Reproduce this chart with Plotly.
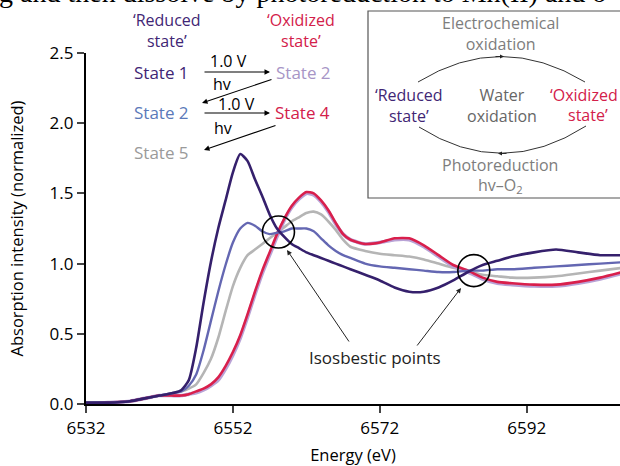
import plotly.graph_objects as go

# ---------------- data ----------------
energy = [6532, 6535, 6538, 6540, 6542, 6544, 6545, 6546, 6547, 6548, 6549, 6550,
          6551, 6552, 6553, 6554, 6555, 6556, 6557, 6558, 6559, 6560, 6561, 6562,
          6563, 6564, 6565, 6566, 6567, 6568, 6570, 6572, 6574, 6576, 6578, 6580,
          6582, 6584, 6586, 6588, 6590, 6593, 6596, 6599, 6602, 6605]

state1 = [0.01, 0.01, 0.02, 0.04, 0.06, 0.08, 0.10, 0.17, 0.40, 0.72, 1.01, 1.25,
          1.45, 1.65, 1.78, 1.73, 1.60, 1.48, 1.35, 1.25, 1.19, 1.14, 1.11, 1.08,
          1.06, 1.04, 1.02, 1.00, 0.98, 0.96, 0.92, 0.88, 0.83, 0.80, 0.80, 0.83,
          0.88, 0.94, 0.99, 1.02, 1.05, 1.08, 1.10, 1.08, 1.06, 1.06]

state2 = [0.01, 0.01, 0.02, 0.04, 0.06, 0.08, 0.09, 0.13, 0.21, 0.38, 0.59, 0.80,
          0.99, 1.15, 1.25, 1.29, 1.27, 1.23, 1.21, 1.22, 1.23, 1.25, 1.25, 1.25,
          1.23, 1.18, 1.13, 1.09, 1.06, 1.04, 1.00, 0.98, 0.97, 0.96, 0.95, 0.94,
          0.94, 0.95, 0.95, 0.96, 0.96, 0.97, 0.98, 0.99, 1.00, 1.01]

state5 = [0.01, 0.01, 0.02, 0.04, 0.06, 0.08, 0.09, 0.11, 0.14, 0.22, 0.32, 0.47,
          0.66, 0.84, 0.97, 1.06, 1.10, 1.14, 1.18, 1.22, 1.26, 1.30, 1.33, 1.36,
          1.37, 1.35, 1.30, 1.24, 1.17, 1.12, 1.09, 1.07, 1.06, 1.05, 1.03, 1.00,
          0.97, 0.95, 0.92, 0.91, 0.90, 0.90, 0.91, 0.93, 0.95, 0.97]

state2_ox = [0.00, 0.01, 0.02, 0.04, 0.06, 0.06, 0.06, 0.07, 0.08, 0.10, 0.13, 0.17,
             0.25, 0.35, 0.47, 0.62, 0.78, 0.93, 1.06, 1.19, 1.31, 1.40, 1.46, 1.50,
             1.49, 1.44, 1.37, 1.28, 1.21, 1.17, 1.14, 1.15, 1.17, 1.17, 1.12, 1.05,
             0.98, 0.94, 0.89, 0.86, 0.85, 0.84, 0.84, 0.86, 0.89, 0.93]

state4 = [0.00, 0.01, 0.02, 0.04, 0.06, 0.06, 0.06, 0.07, 0.09, 0.11, 0.14, 0.19,
          0.27, 0.37, 0.49, 0.64, 0.80, 0.95, 1.08, 1.21, 1.32, 1.41, 1.47, 1.51,
          1.50, 1.45, 1.38, 1.29, 1.21, 1.17, 1.14, 1.15, 1.18, 1.18, 1.13, 1.06,
          0.99, 0.95, 0.90, 0.87, 0.86, 0.85, 0.85, 0.87, 0.90, 0.94]

iso_energy = [6558.2, 6584.8]
iso_value = [1.225, 0.95]

x_ticks = [6532, 6552, 6572, 6592]
y_ticks = [0.0, 0.5, 1.0, 1.5, 2.0, 2.5]
y_tick_labels = ["0.0", "0.5", "1.0", "1.5", "2.0", "2.5"]

# ---------------- style ----------------
C_S1 = "#35206c"
C_S2 = "#6467b2"
C_S2OX = "#b9a3d6"
C_S4 = "#d91f4c"
C_S5 = "#b5b5b5"
C_TXT_RED = "#d3204a"
C_TXT_PUR = "#3f2675"
C_TXT_BLUE = "#5b79b9"
C_TXT_LPUR = "#a795c6"
C_TXT_GRAY = "#9a9a9a"
C_INSET = "#7d7d7d"
FONT = "Open Sans"

W, H = 620, 466
L, R, T, B = 86, 0, 53, 62
PW, PH = W - L - R, H - T - B


def px(x):
    return (x - L) / PW


def py(y):
    return (H - B - y) / PH


fig = go.Figure()
series = [
    (state5, C_S5, 2.6),
    (state2_ox, C_S2OX, 3.6),
    (state4, C_S4, 2.6),
    (state2, C_S2, 2.4),
    (state1, C_S1, 2.6),
]
for vals, col, w in series:
    fig.add_trace(go.Scatter(x=energy, y=vals, mode="lines",
                             line=dict(color=col, width=w, shape="spline", smoothing=0.6),
                             hoverinfo="skip", showlegend=False))

shapes = []
for e, v in zip(iso_energy, iso_value):
    shapes.append(dict(type="circle", xref="x", yref="y", xsizemode="pixel", ysizemode="pixel",
                       xanchor=e, yanchor=v, x0=-16, x1=16, y0=-16, y1=16,
                       line=dict(color="black", width=1.6)))

# inset box
shapes.append(dict(type="rect", xref="paper", yref="paper",
                   x0=px(368), x1=px(626), y0=py(11), y1=py(198),
                   line=dict(color="#555555", width=1.2)))


def qpath(p0, c, p2):
    return "M {} {} Q {} {} {} {}".format(px(p0[0]), py(p0[1]), px(c[0]), py(c[1]), px(p2[0]), py(p2[1]))


shapes.append(dict(type="path", xref="paper", yref="paper",
                   path=qpath((418, 82), (501, 31), (585, 82)),
                   line=dict(color="#333333", width=1)))
shapes.append(dict(type="path", xref="paper", yref="paper",
                   path=qpath((419, 127), (502, 180), (586, 126)),
                   line=dict(color="#333333", width=1)))

ann = []


def txt(s, x, y, color, size=17, font=FONT, xanchor="center"):
    ann.append(dict(text=s, x=px(x), y=py(y), xref="paper", yref="paper", showarrow=False,
                    xanchor=xanchor, yanchor="middle", align="center",
                    font=dict(family=font, size=size, color=color)))


def arrow(x0, y0, x1, y1, color="black", width=1.1, size=1.0):
    ann.append(dict(text="", x=px(x1), y=py(y1), xref="paper", yref="paper",
                    ax=x0 - x1, ay=y0 - y1, showarrow=True, arrowhead=2, arrowsize=size,
                    arrowwidth=width, arrowcolor=color))


# cut-off caption text at top
txt("g and then dissolve by photoreduction to Mn(II) and o", -3, -7, "black", size=28,
    font="Liberation Serif", xanchor="left")

# reaction scheme
txt("\u2018Reduced<br>state\u2019", 167, 31, C_TXT_PUR, size=16)
txt("\u2018Oxidized<br>state\u2019", 301, 31, C_TXT_RED, size=16)
txt("State 1", 161, 73, C_TXT_PUR)
txt("1.0 V", 228, 61, "black", size=16)
arrow(203, 72, 270, 72)
txt("hv", 222, 84, "black", size=16)
txt("State 2", 303, 72, C_TXT_LPUR)
arrow(273, 79, 202, 103)
txt("State 2", 161, 112, C_TXT_BLUE)
txt("1.0 V", 236, 104, "black", size=16)
arrow(203, 113, 270, 113)
txt("hv", 223, 128, "black", size=16)
txt("State 4", 302, 112, C_TXT_RED)
arrow(277, 125, 204, 150)
txt("State 5", 161, 152, C_TXT_GRAY)

# inset
txt("Electrochemical<br>oxidation", 500, 33, C_INSET, size=16)
txt("\u2018Reduced<br>state\u2019", 409, 105, C_TXT_PUR, size=16)
txt("Water<br>oxidation", 502, 105, "#666666", size=16)
txt("\u2018Oxidized", 584, 95, C_TXT_RED, size=16)
txt("state\u2019", 588, 115, C_TXT_RED, size=16)
txt("Photoreduction", 500, 165, C_INSET, size=16)
txt("hv\u2013O<sub>2</sub>", 500, 186, C_INSET, size=16)
arrow(494, 56.6, 504, 56.6, color="#222222", width=1, size=0.8)
arrow(508, 153.4, 498, 153.4, color="#222222", width=1, size=0.8)

# isosbestic label
txt("Isosbestic points", 375, 357, "#222222", size=17)
arrow(350, 343, 287, 250, color="#222222", width=1)
arrow(416, 347, 461, 288, color="#222222", width=1)

fig.update_layout(
    width=W, height=H, margin=dict(l=L, r=R, t=T, b=B),
    paper_bgcolor="white", plot_bgcolor="white",
    font=dict(family=FONT, size=17, color="black"),
    shapes=shapes, annotations=ann,
    xaxis=dict(range=[6532, 6604.7], tickvals=x_ticks, ticks="outside", ticklen=7, tickwidth=2,
               showline=True, linewidth=2.4, linecolor="black", showgrid=False, zeroline=False,
               tickfont=dict(size=17), title=dict(text="Energy (eV)", font=dict(size=16.5), standoff=12)),
    yaxis=dict(range=[0, 2.5], tickvals=y_ticks, ticktext=y_tick_labels, ticks="outside", ticklen=7,
               tickwidth=2, showline=True, linewidth=2.4, linecolor="black", showgrid=False,
               zeroline=False, tickfont=dict(size=17),
               title=dict(text="Absorption intensity (normalized)", font=dict(size=16.5), standoff=22)),
)

fig.write_html("out.html", config={"displayModeBar": False},
               post_script="document.body.style.margin='0';")
